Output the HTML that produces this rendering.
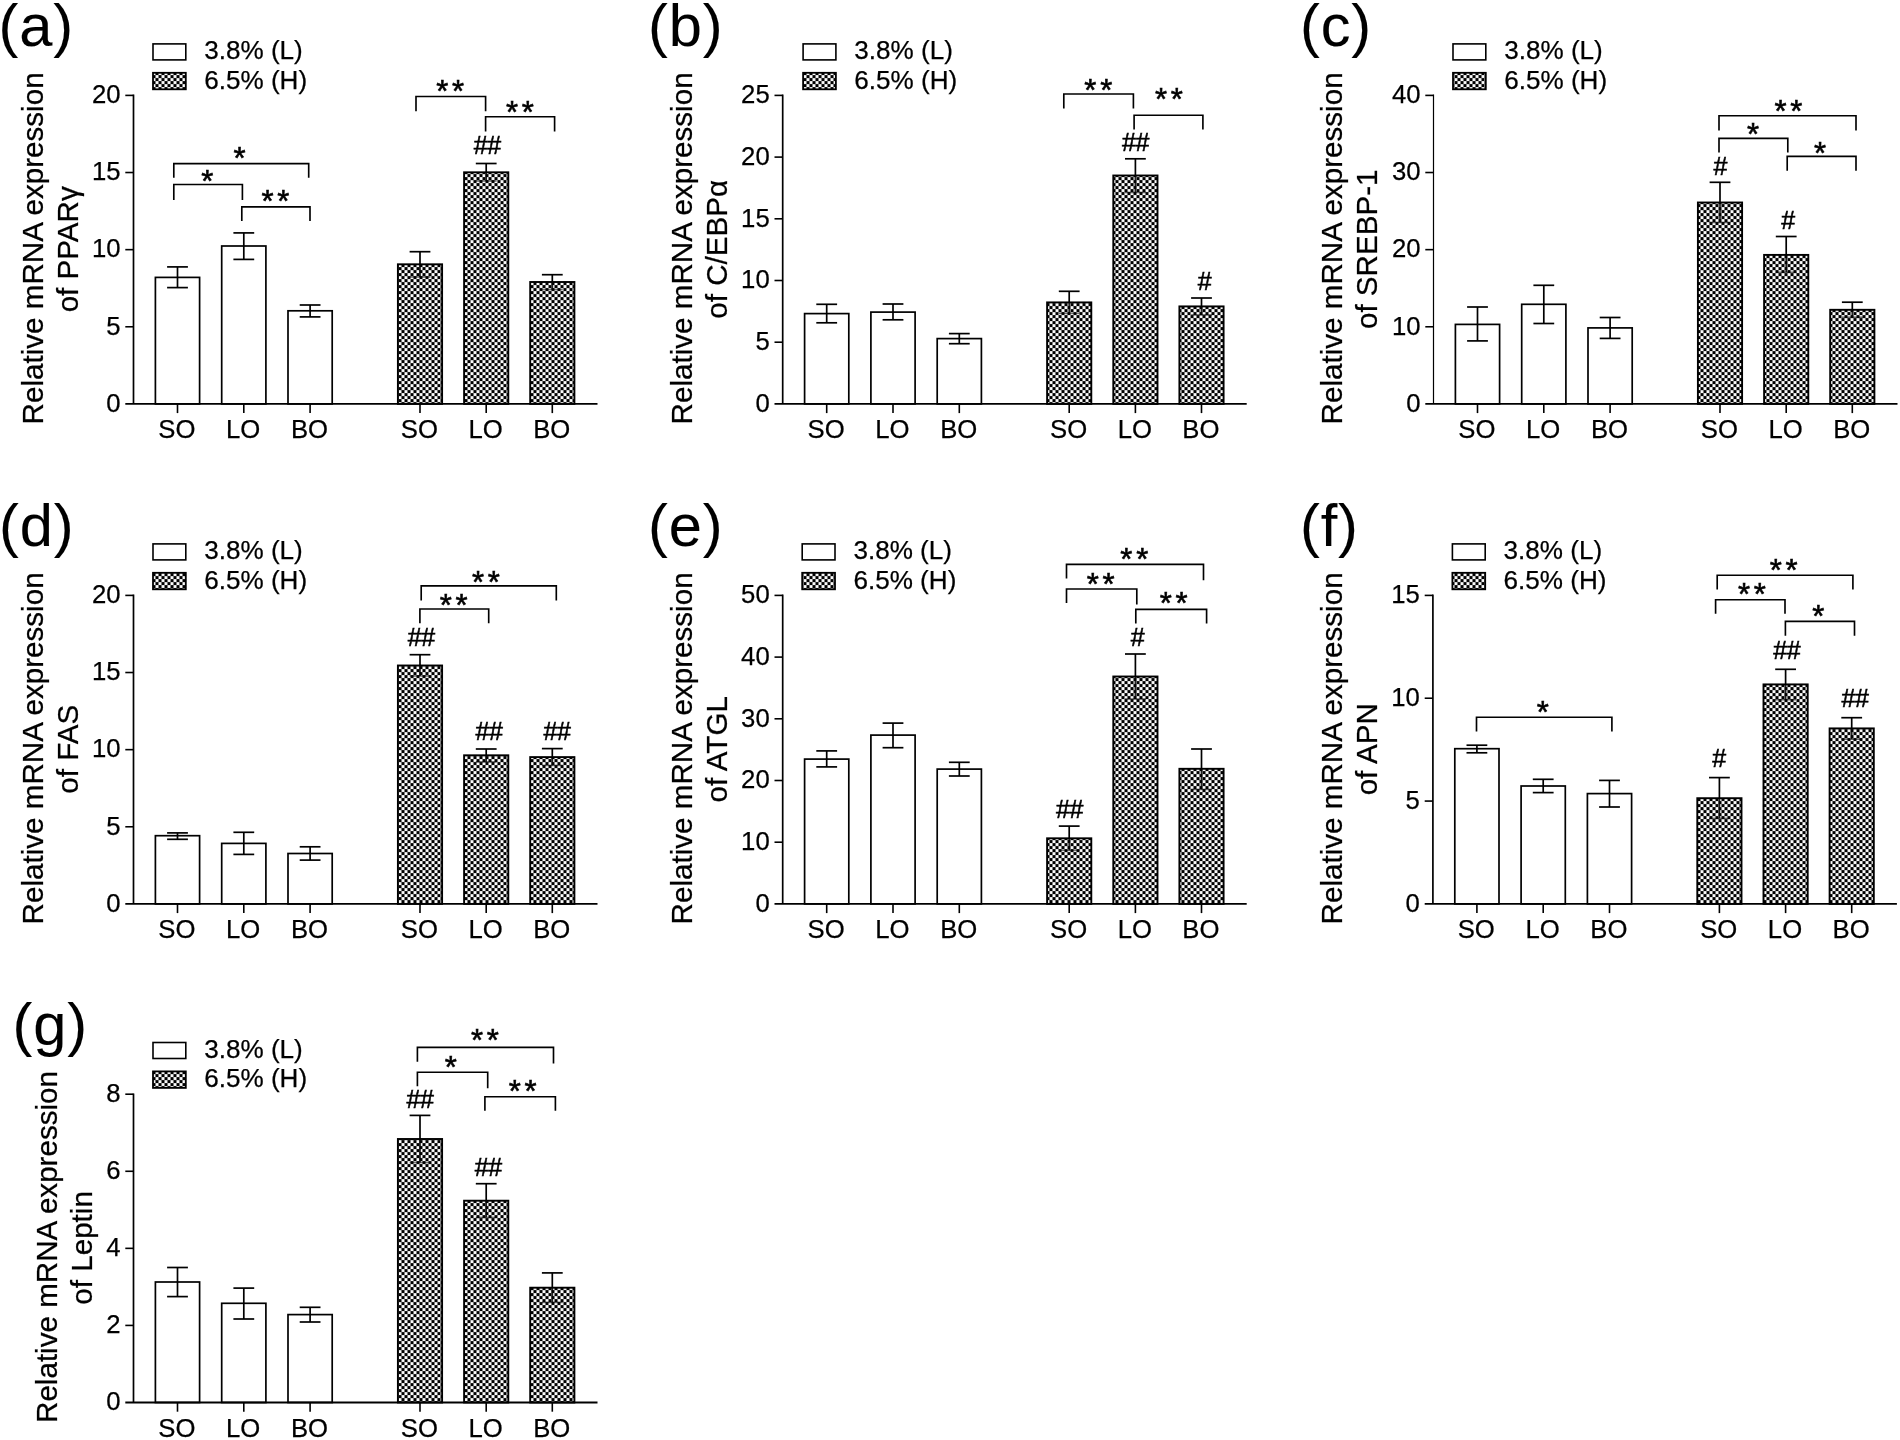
<!DOCTYPE html>
<html lang="en">
<head>
<meta charset="utf-8">
<title>Relative mRNA expression of lipid metabolism genes</title>
<style>
html,body{margin:0;padding:0;background:#fff;}
body{width:1900px;height:1440px;overflow:hidden;}
svg{display:block;filter:blur(0.3px);}
svg text{font-family:"Liberation Sans", sans-serif;fill:#000;stroke:#000;stroke-width:0.25px;}
svg text.st{stroke-width:0.6px;}
svg text.lb{stroke-width:0.1px;}
svg text.hs{stroke-width:0.55px;}
</style>
</head>
<body>
<svg width="1900" height="1440" viewBox="0 0 1900 1440">
<defs>
<pattern id="chk" x="2.5" y="3.1" width="6" height="6" patternUnits="userSpaceOnUse">
<rect x="0" y="0" width="6" height="6" fill="#fff"/>
<rect x="-0.05" y="-0.05" width="3.1" height="3.1" fill="#000"/>
<rect x="2.95" y="2.95" width="3.1" height="3.1" fill="#000"/>
</pattern>
</defs>
<rect x="0" y="0" width="1900" height="1440" fill="#fff"/>
<g>
<text x="-1.5" y="45.9" font-size="59.6" text-anchor="start" letter-spacing="0.9" class="lb">(a)</text>
<text transform="translate(43 248.4) rotate(-90)" font-size="29.6" text-anchor="middle">Relative mRNA expression</text>
<text transform="translate(77.9 249.3) rotate(-90)" font-size="29.6" text-anchor="middle">of PPARγ</text>
<rect x="153" y="43.9" width="32.8" height="16.0" fill="#fff" stroke="#000" stroke-width="1.6"/>
<rect x="153" y="72.8" width="32.8" height="16.5" fill="url(#chk)" stroke="#000" stroke-width="1.8"/>
<text x="204.2" y="59.3" font-size="26.1" text-anchor="start" >3.8% (L)</text>
<text x="204.2" y="88.7" font-size="26.1" text-anchor="start" >6.5% (H)</text>
<rect x="155.4" y="277.4" width="44.2" height="126.5" fill="#fff" stroke="#000" stroke-width="1.7"/>
<line x1="177.5" y1="266.9" x2="177.5" y2="287.6" stroke="#000" stroke-width="1.7" />
<line x1="167.1" y1="266.9" x2="187.9" y2="266.9" stroke="#000" stroke-width="1.7" />
<line x1="167.1" y1="287.6" x2="187.9" y2="287.6" stroke="#000" stroke-width="1.7" />
<rect x="221.7" y="246" width="44.2" height="157.9" fill="#fff" stroke="#000" stroke-width="1.7"/>
<line x1="243.8" y1="232.9" x2="243.8" y2="259.4" stroke="#000" stroke-width="1.7" />
<line x1="233.4" y1="232.9" x2="254.2" y2="232.9" stroke="#000" stroke-width="1.7" />
<line x1="233.4" y1="259.4" x2="254.2" y2="259.4" stroke="#000" stroke-width="1.7" />
<rect x="288" y="310.8" width="44.2" height="93.1" fill="#fff" stroke="#000" stroke-width="1.7"/>
<line x1="310.1" y1="305" x2="310.1" y2="316.9" stroke="#000" stroke-width="1.7" />
<line x1="299.7" y1="305" x2="320.5" y2="305" stroke="#000" stroke-width="1.7" />
<line x1="299.7" y1="316.9" x2="320.5" y2="316.9" stroke="#000" stroke-width="1.7" />
<rect x="397.9" y="264.3" width="44.2" height="139.6" fill="url(#chk)" stroke="#000" stroke-width="1.9"/>
<line x1="420" y1="251.7" x2="420" y2="264.3" stroke="#000" stroke-width="1.7" />
<line x1="409.6" y1="251.7" x2="430.4" y2="251.7" stroke="#000" stroke-width="1.7" />
<line x1="420" y1="264.3" x2="420" y2="277" stroke="#000" stroke-width="1.7" opacity="0.85"/>
<line x1="409.6" y1="277" x2="430.4" y2="277" stroke="#000" stroke-width="1.6" opacity="0.55"/>
<rect x="464.1" y="172.3" width="44.2" height="231.6" fill="url(#chk)" stroke="#000" stroke-width="1.9"/>
<line x1="486.2" y1="163.5" x2="486.2" y2="172.3" stroke="#000" stroke-width="1.7" />
<line x1="475.8" y1="163.5" x2="496.6" y2="163.5" stroke="#000" stroke-width="1.7" />
<line x1="486.2" y1="172.3" x2="486.2" y2="181" stroke="#000" stroke-width="1.7" opacity="0.85"/>
<line x1="475.8" y1="181" x2="496.6" y2="181" stroke="#000" stroke-width="1.6" opacity="0.55"/>
<rect x="530.2" y="282" width="44.2" height="121.9" fill="url(#chk)" stroke="#000" stroke-width="1.9"/>
<line x1="552.3" y1="274.7" x2="552.3" y2="282" stroke="#000" stroke-width="1.7" />
<line x1="541.9" y1="274.7" x2="562.7" y2="274.7" stroke="#000" stroke-width="1.7" />
<line x1="552.3" y1="282" x2="552.3" y2="289.6" stroke="#000" stroke-width="1.7" opacity="0.85"/>
<line x1="541.9" y1="289.6" x2="562.7" y2="289.6" stroke="#000" stroke-width="1.6" opacity="0.55"/>
<line x1="133.5" y1="94.6" x2="133.5" y2="403.9" stroke="#000" stroke-width="1.7" />
<line x1="125.3" y1="403.9" x2="597.5" y2="403.9" stroke="#000" stroke-width="1.8" />
<text x="120.5" y="411.7" font-size="25.7" text-anchor="end" >0</text>
<line x1="125.3" y1="326.77" x2="133.5" y2="326.77" stroke="#000" stroke-width="1.6" />
<text x="120.5" y="334.57" font-size="25.7" text-anchor="end" >5</text>
<line x1="125.3" y1="249.65" x2="133.5" y2="249.65" stroke="#000" stroke-width="1.6" />
<text x="120.5" y="257.45" font-size="25.7" text-anchor="end" >10</text>
<line x1="125.3" y1="172.52" x2="133.5" y2="172.52" stroke="#000" stroke-width="1.6" />
<text x="120.5" y="180.32" font-size="25.7" text-anchor="end" >15</text>
<line x1="125.3" y1="95.4" x2="133.5" y2="95.4" stroke="#000" stroke-width="1.6" />
<text x="120.5" y="103.2" font-size="25.7" text-anchor="end" >20</text>
<line x1="177.5" y1="403.9" x2="177.5" y2="413.1" stroke="#000" stroke-width="1.6" />
<text x="176.9" y="438.3" font-size="25.7" text-anchor="middle" >SO</text>
<line x1="243.8" y1="403.9" x2="243.8" y2="413.1" stroke="#000" stroke-width="1.6" />
<text x="243.2" y="438.3" font-size="25.7" text-anchor="middle" >LO</text>
<line x1="310.1" y1="403.9" x2="310.1" y2="413.1" stroke="#000" stroke-width="1.6" />
<text x="309.5" y="438.3" font-size="25.7" text-anchor="middle" >BO</text>
<line x1="420" y1="403.9" x2="420" y2="413.1" stroke="#000" stroke-width="1.6" />
<text x="419.4" y="438.3" font-size="25.7" text-anchor="middle" >SO</text>
<line x1="486.2" y1="403.9" x2="486.2" y2="413.1" stroke="#000" stroke-width="1.6" />
<text x="485.6" y="438.3" font-size="25.7" text-anchor="middle" >LO</text>
<line x1="552.3" y1="403.9" x2="552.3" y2="413.1" stroke="#000" stroke-width="1.6" />
<text x="551.7" y="438.3" font-size="25.7" text-anchor="middle" >BO</text>
<polyline points="173.8,177.8 173.8,163.6 308.7,163.6 308.7,177.8" fill="none" stroke="#000" stroke-width="1.65"/>
<text x="239.6" y="169.19" font-size="31.0" text-anchor="middle" class="st">*</text>
<polyline points="173.8,199.9 173.8,184.5 242.4,184.5 242.4,199.9" fill="none" stroke="#000" stroke-width="1.65"/>
<text x="207.3" y="192.49" font-size="31.0" text-anchor="middle" class="st">*</text>
<polyline points="241.8,221.1 241.8,206.8 310,206.8 310,221.1" fill="none" stroke="#000" stroke-width="1.65"/>
<text x="277.16" y="212.49" font-size="31.0" text-anchor="middle" letter-spacing="3.71" class="st">**</text>
<polyline points="416,111.2 416,96.5 485.6,96.5 485.6,111.2" fill="none" stroke="#000" stroke-width="1.65"/>
<text x="451.96" y="102.49" font-size="31.0" text-anchor="middle" letter-spacing="3.71" class="st">**</text>
<polyline points="485.6,131.4 485.6,116.7 554.6,116.7 554.6,131.4" fill="none" stroke="#000" stroke-width="1.65"/>
<text x="521.86" y="122.69" font-size="31.0" text-anchor="middle" letter-spacing="3.71" class="st">**</text>
<text x="487.3" y="153.83" font-size="25.0" text-anchor="middle" class="hs" letter-spacing="-0.4">##</text>
</g>
<g>
<text x="647.9" y="45.9" font-size="59.6" text-anchor="start" letter-spacing="0.9" class="lb">(b)</text>
<text transform="translate(692.2 248.4) rotate(-90)" font-size="29.6" text-anchor="middle">Relative mRNA expression</text>
<text transform="translate(727.1 249.3) rotate(-90)" font-size="29.6" text-anchor="middle">of C/EBPα</text>
<rect x="803.1" y="43.9" width="32.8" height="16.0" fill="#fff" stroke="#000" stroke-width="1.6"/>
<rect x="803.1" y="72.8" width="32.8" height="16.5" fill="url(#chk)" stroke="#000" stroke-width="1.8"/>
<text x="854.3" y="59.3" font-size="26.1" text-anchor="start" >3.8% (L)</text>
<text x="854.3" y="88.7" font-size="26.1" text-anchor="start" >6.5% (H)</text>
<rect x="804.6" y="313.6" width="44.2" height="90.3" fill="#fff" stroke="#000" stroke-width="1.7"/>
<line x1="826.7" y1="304.3" x2="826.7" y2="322.8" stroke="#000" stroke-width="1.7" />
<line x1="816.3" y1="304.3" x2="837.1" y2="304.3" stroke="#000" stroke-width="1.7" />
<line x1="816.3" y1="322.8" x2="837.1" y2="322.8" stroke="#000" stroke-width="1.7" />
<rect x="870.9" y="312.1" width="44.2" height="91.8" fill="#fff" stroke="#000" stroke-width="1.7"/>
<line x1="893" y1="304" x2="893" y2="319.8" stroke="#000" stroke-width="1.7" />
<line x1="882.6" y1="304" x2="903.4" y2="304" stroke="#000" stroke-width="1.7" />
<line x1="882.6" y1="319.8" x2="903.4" y2="319.8" stroke="#000" stroke-width="1.7" />
<rect x="937.2" y="338.6" width="44.2" height="65.3" fill="#fff" stroke="#000" stroke-width="1.7"/>
<line x1="959.3" y1="333.6" x2="959.3" y2="343.7" stroke="#000" stroke-width="1.7" />
<line x1="948.9" y1="333.6" x2="969.7" y2="333.6" stroke="#000" stroke-width="1.7" />
<line x1="948.9" y1="343.7" x2="969.7" y2="343.7" stroke="#000" stroke-width="1.7" />
<rect x="1047.1" y="302.4" width="44.2" height="101.5" fill="url(#chk)" stroke="#000" stroke-width="1.9"/>
<line x1="1069.2" y1="291.3" x2="1069.2" y2="302.4" stroke="#000" stroke-width="1.7" />
<line x1="1058.8" y1="291.3" x2="1079.6" y2="291.3" stroke="#000" stroke-width="1.7" />
<line x1="1069.2" y1="302.4" x2="1069.2" y2="313.4" stroke="#000" stroke-width="1.7" opacity="0.85"/>
<line x1="1058.8" y1="313.4" x2="1079.6" y2="313.4" stroke="#000" stroke-width="1.6" opacity="0.55"/>
<rect x="1113.3" y="175.5" width="44.2" height="228.4" fill="url(#chk)" stroke="#000" stroke-width="1.9"/>
<line x1="1135.4" y1="158.8" x2="1135.4" y2="175.5" stroke="#000" stroke-width="1.7" />
<line x1="1125" y1="158.8" x2="1145.8" y2="158.8" stroke="#000" stroke-width="1.7" />
<line x1="1135.4" y1="175.5" x2="1135.4" y2="192.5" stroke="#000" stroke-width="1.7" opacity="0.85"/>
<line x1="1125" y1="192.5" x2="1145.8" y2="192.5" stroke="#000" stroke-width="1.6" opacity="0.55"/>
<rect x="1179.4" y="306.4" width="44.2" height="97.5" fill="url(#chk)" stroke="#000" stroke-width="1.9"/>
<line x1="1201.5" y1="298" x2="1201.5" y2="306.4" stroke="#000" stroke-width="1.7" />
<line x1="1191.1" y1="298" x2="1211.9" y2="298" stroke="#000" stroke-width="1.7" />
<line x1="1201.5" y1="306.4" x2="1201.5" y2="314.9" stroke="#000" stroke-width="1.7" opacity="0.85"/>
<line x1="1191.1" y1="314.9" x2="1211.9" y2="314.9" stroke="#000" stroke-width="1.6" opacity="0.55"/>
<line x1="782.7" y1="94.6" x2="782.7" y2="403.9" stroke="#000" stroke-width="1.7" />
<line x1="774.5" y1="403.9" x2="1246.7" y2="403.9" stroke="#000" stroke-width="1.8" />
<text x="769.7" y="411.7" font-size="25.7" text-anchor="end" >0</text>
<line x1="774.5" y1="342.2" x2="782.7" y2="342.2" stroke="#000" stroke-width="1.6" />
<text x="769.7" y="350" font-size="25.7" text-anchor="end" >5</text>
<line x1="774.5" y1="280.5" x2="782.7" y2="280.5" stroke="#000" stroke-width="1.6" />
<text x="769.7" y="288.3" font-size="25.7" text-anchor="end" >10</text>
<line x1="774.5" y1="218.8" x2="782.7" y2="218.8" stroke="#000" stroke-width="1.6" />
<text x="769.7" y="226.6" font-size="25.7" text-anchor="end" >15</text>
<line x1="774.5" y1="157.1" x2="782.7" y2="157.1" stroke="#000" stroke-width="1.6" />
<text x="769.7" y="164.9" font-size="25.7" text-anchor="end" >20</text>
<line x1="774.5" y1="95.4" x2="782.7" y2="95.4" stroke="#000" stroke-width="1.6" />
<text x="769.7" y="103.2" font-size="25.7" text-anchor="end" >25</text>
<line x1="826.7" y1="403.9" x2="826.7" y2="413.1" stroke="#000" stroke-width="1.6" />
<text x="826.1" y="438.3" font-size="25.7" text-anchor="middle" >SO</text>
<line x1="893" y1="403.9" x2="893" y2="413.1" stroke="#000" stroke-width="1.6" />
<text x="892.4" y="438.3" font-size="25.7" text-anchor="middle" >LO</text>
<line x1="959.3" y1="403.9" x2="959.3" y2="413.1" stroke="#000" stroke-width="1.6" />
<text x="958.7" y="438.3" font-size="25.7" text-anchor="middle" >BO</text>
<line x1="1069.2" y1="403.9" x2="1069.2" y2="413.1" stroke="#000" stroke-width="1.6" />
<text x="1068.6" y="438.3" font-size="25.7" text-anchor="middle" >SO</text>
<line x1="1135.4" y1="403.9" x2="1135.4" y2="413.1" stroke="#000" stroke-width="1.6" />
<text x="1134.8" y="438.3" font-size="25.7" text-anchor="middle" >LO</text>
<line x1="1201.5" y1="403.9" x2="1201.5" y2="413.1" stroke="#000" stroke-width="1.6" />
<text x="1200.9" y="438.3" font-size="25.7" text-anchor="middle" >BO</text>
<polyline points="1063.8,108.5 1063.8,94 1133.4,94 1133.4,108.5" fill="none" stroke="#000" stroke-width="1.65"/>
<text x="1100.15" y="100.79" font-size="31.0" text-anchor="middle" letter-spacing="3.71" class="st">**</text>
<polyline points="1134.1,129.4 1134.1,115.2 1202.9,115.2 1202.9,129.4" fill="none" stroke="#000" stroke-width="1.65"/>
<text x="1170.86" y="110.39" font-size="31.0" text-anchor="middle" letter-spacing="3.71" class="st">**</text>
<text x="1135.5" y="150.62" font-size="25.0" text-anchor="middle" class="hs" letter-spacing="-0.4">##</text>
<text x="1204.4" y="289.73" font-size="25.0" text-anchor="middle" class="hs" letter-spacing="-0.4">#</text>
</g>
<g>
<text x="1299.9" y="45.9" font-size="59.6" text-anchor="start" letter-spacing="0.9" class="lb">(c)</text>
<text transform="translate(1341.8 248.4) rotate(-90)" font-size="29.6" text-anchor="middle">Relative mRNA expression</text>
<text transform="translate(1376.7 249.3) rotate(-90)" font-size="29.6" text-anchor="middle">of SREBP-1</text>
<rect x="1453" y="43.9" width="32.8" height="16.0" fill="#fff" stroke="#000" stroke-width="1.6"/>
<rect x="1453" y="72.8" width="32.8" height="16.5" fill="url(#chk)" stroke="#000" stroke-width="1.8"/>
<text x="1504.2" y="59.3" font-size="26.1" text-anchor="start" >3.8% (L)</text>
<text x="1504.2" y="88.7" font-size="26.1" text-anchor="start" >6.5% (H)</text>
<rect x="1455.4" y="324.4" width="44.2" height="79.5" fill="#fff" stroke="#000" stroke-width="1.7"/>
<line x1="1477.5" y1="307" x2="1477.5" y2="340.9" stroke="#000" stroke-width="1.7" />
<line x1="1467.1" y1="307" x2="1487.9" y2="307" stroke="#000" stroke-width="1.7" />
<line x1="1467.1" y1="340.9" x2="1487.9" y2="340.9" stroke="#000" stroke-width="1.7" />
<rect x="1521.7" y="304.3" width="44.2" height="99.6" fill="#fff" stroke="#000" stroke-width="1.7"/>
<line x1="1543.8" y1="285.3" x2="1543.8" y2="323.5" stroke="#000" stroke-width="1.7" />
<line x1="1533.4" y1="285.3" x2="1554.2" y2="285.3" stroke="#000" stroke-width="1.7" />
<line x1="1533.4" y1="323.5" x2="1554.2" y2="323.5" stroke="#000" stroke-width="1.7" />
<rect x="1588" y="327.9" width="44.2" height="76" fill="#fff" stroke="#000" stroke-width="1.7"/>
<line x1="1610.1" y1="317.5" x2="1610.1" y2="338.4" stroke="#000" stroke-width="1.7" />
<line x1="1599.7" y1="317.5" x2="1620.5" y2="317.5" stroke="#000" stroke-width="1.7" />
<line x1="1599.7" y1="338.4" x2="1620.5" y2="338.4" stroke="#000" stroke-width="1.7" />
<rect x="1697.9" y="202.5" width="44.2" height="201.4" fill="url(#chk)" stroke="#000" stroke-width="1.9"/>
<line x1="1720" y1="182.3" x2="1720" y2="202.5" stroke="#000" stroke-width="1.7" />
<line x1="1709.6" y1="182.3" x2="1730.4" y2="182.3" stroke="#000" stroke-width="1.7" />
<line x1="1720" y1="202.5" x2="1720" y2="222.5" stroke="#000" stroke-width="1.7" opacity="0.85"/>
<line x1="1709.6" y1="222.5" x2="1730.4" y2="222.5" stroke="#000" stroke-width="1.6" opacity="0.55"/>
<rect x="1764.1" y="254.9" width="44.2" height="149" fill="url(#chk)" stroke="#000" stroke-width="1.9"/>
<line x1="1786.2" y1="236.5" x2="1786.2" y2="254.9" stroke="#000" stroke-width="1.7" />
<line x1="1775.8" y1="236.5" x2="1796.6" y2="236.5" stroke="#000" stroke-width="1.7" />
<line x1="1786.2" y1="254.9" x2="1786.2" y2="272.3" stroke="#000" stroke-width="1.7" opacity="0.85"/>
<line x1="1775.8" y1="272.3" x2="1796.6" y2="272.3" stroke="#000" stroke-width="1.6" opacity="0.55"/>
<rect x="1830.2" y="309.8" width="44.2" height="94.1" fill="url(#chk)" stroke="#000" stroke-width="1.9"/>
<line x1="1852.3" y1="302.2" x2="1852.3" y2="309.8" stroke="#000" stroke-width="1.7" />
<line x1="1841.9" y1="302.2" x2="1862.7" y2="302.2" stroke="#000" stroke-width="1.7" />
<line x1="1852.3" y1="309.8" x2="1852.3" y2="317.2" stroke="#000" stroke-width="1.7" opacity="0.85"/>
<line x1="1841.9" y1="317.2" x2="1862.7" y2="317.2" stroke="#000" stroke-width="1.6" opacity="0.55"/>
<line x1="1433.5" y1="94.6" x2="1433.5" y2="403.9" stroke="#000" stroke-width="1.2" />
<line x1="1425.3" y1="403.9" x2="1897.5" y2="403.9" stroke="#000" stroke-width="1.8" />
<text x="1420.5" y="411.7" font-size="25.7" text-anchor="end" >0</text>
<line x1="1425.3" y1="326.77" x2="1433.5" y2="326.77" stroke="#000" stroke-width="1.6" />
<text x="1420.5" y="334.57" font-size="25.7" text-anchor="end" >10</text>
<line x1="1425.3" y1="249.65" x2="1433.5" y2="249.65" stroke="#000" stroke-width="1.6" />
<text x="1420.5" y="257.45" font-size="25.7" text-anchor="end" >20</text>
<line x1="1425.3" y1="172.52" x2="1433.5" y2="172.52" stroke="#000" stroke-width="1.6" />
<text x="1420.5" y="180.32" font-size="25.7" text-anchor="end" >30</text>
<line x1="1425.3" y1="95.4" x2="1433.5" y2="95.4" stroke="#000" stroke-width="1.6" />
<text x="1420.5" y="103.2" font-size="25.7" text-anchor="end" >40</text>
<line x1="1477.5" y1="403.9" x2="1477.5" y2="413.1" stroke="#000" stroke-width="1.6" />
<text x="1476.9" y="438.3" font-size="25.7" text-anchor="middle" >SO</text>
<line x1="1543.8" y1="403.9" x2="1543.8" y2="413.1" stroke="#000" stroke-width="1.6" />
<text x="1543.2" y="438.3" font-size="25.7" text-anchor="middle" >LO</text>
<line x1="1610.1" y1="403.9" x2="1610.1" y2="413.1" stroke="#000" stroke-width="1.6" />
<text x="1609.5" y="438.3" font-size="25.7" text-anchor="middle" >BO</text>
<line x1="1720" y1="403.9" x2="1720" y2="413.1" stroke="#000" stroke-width="1.6" />
<text x="1719.4" y="438.3" font-size="25.7" text-anchor="middle" >SO</text>
<line x1="1786.2" y1="403.9" x2="1786.2" y2="413.1" stroke="#000" stroke-width="1.6" />
<text x="1785.6" y="438.3" font-size="25.7" text-anchor="middle" >LO</text>
<line x1="1852.3" y1="403.9" x2="1852.3" y2="413.1" stroke="#000" stroke-width="1.6" />
<text x="1851.7" y="438.3" font-size="25.7" text-anchor="middle" >BO</text>
<polyline points="1719,130.5 1719,115.7 1856,115.7 1856,130.5" fill="none" stroke="#000" stroke-width="1.65"/>
<text x="1790.26" y="121.89" font-size="31.0" text-anchor="middle" letter-spacing="3.71" class="st">**</text>
<polyline points="1719,152.4 1719,138.4 1787.8,138.4 1787.8,152.4" fill="none" stroke="#000" stroke-width="1.65"/>
<text x="1753" y="145.29" font-size="31.0" text-anchor="middle" class="st">*</text>
<polyline points="1787.2,170.7 1787.2,156.4 1856,156.4 1856,170.7" fill="none" stroke="#000" stroke-width="1.65"/>
<text x="1820.1" y="163.79" font-size="31.0" text-anchor="middle" class="st">*</text>
<text x="1720.2" y="174.73" font-size="25.0" text-anchor="middle" class="hs" letter-spacing="-0.4">#</text>
<text x="1787.9" y="228.83" font-size="25.0" text-anchor="middle" class="hs" letter-spacing="-0.4">#</text>
</g>
<g>
<text x="-1.1" y="545.9" font-size="59.6" text-anchor="start" letter-spacing="0.9" class="lb">(d)</text>
<text transform="translate(43 748.4) rotate(-90)" font-size="29.6" text-anchor="middle">Relative mRNA expression</text>
<text transform="translate(77.9 749.3) rotate(-90)" font-size="29.6" text-anchor="middle">of FAS</text>
<rect x="153" y="543.9" width="32.8" height="16.0" fill="#fff" stroke="#000" stroke-width="1.6"/>
<rect x="153" y="572.8" width="32.8" height="16.5" fill="url(#chk)" stroke="#000" stroke-width="1.8"/>
<text x="204.2" y="559.3" font-size="26.1" text-anchor="start" >3.8% (L)</text>
<text x="204.2" y="588.7" font-size="26.1" text-anchor="start" >6.5% (H)</text>
<rect x="155.4" y="835.7" width="44.2" height="68.2" fill="#fff" stroke="#000" stroke-width="1.7"/>
<line x1="177.5" y1="832.9" x2="177.5" y2="839.3" stroke="#000" stroke-width="1.7" />
<line x1="167.1" y1="832.9" x2="187.9" y2="832.9" stroke="#000" stroke-width="1.7" />
<line x1="167.1" y1="839.3" x2="187.9" y2="839.3" stroke="#000" stroke-width="1.7" />
<rect x="221.7" y="843.4" width="44.2" height="60.5" fill="#fff" stroke="#000" stroke-width="1.7"/>
<line x1="243.8" y1="832.3" x2="243.8" y2="854.4" stroke="#000" stroke-width="1.7" />
<line x1="233.4" y1="832.3" x2="254.2" y2="832.3" stroke="#000" stroke-width="1.7" />
<line x1="233.4" y1="854.4" x2="254.2" y2="854.4" stroke="#000" stroke-width="1.7" />
<rect x="288" y="853.5" width="44.2" height="50.4" fill="#fff" stroke="#000" stroke-width="1.7"/>
<line x1="310.1" y1="846.8" x2="310.1" y2="860.1" stroke="#000" stroke-width="1.7" />
<line x1="299.7" y1="846.8" x2="320.5" y2="846.8" stroke="#000" stroke-width="1.7" />
<line x1="299.7" y1="860.1" x2="320.5" y2="860.1" stroke="#000" stroke-width="1.7" />
<rect x="397.9" y="665.5" width="44.2" height="238.4" fill="url(#chk)" stroke="#000" stroke-width="1.9"/>
<line x1="420" y1="654.7" x2="420" y2="665.5" stroke="#000" stroke-width="1.7" />
<line x1="409.6" y1="654.7" x2="430.4" y2="654.7" stroke="#000" stroke-width="1.7" />
<line x1="420" y1="665.5" x2="420" y2="676" stroke="#000" stroke-width="1.7" opacity="0.85"/>
<line x1="409.6" y1="676" x2="430.4" y2="676" stroke="#000" stroke-width="1.6" opacity="0.55"/>
<rect x="464.1" y="755.3" width="44.2" height="148.6" fill="url(#chk)" stroke="#000" stroke-width="1.9"/>
<line x1="486.2" y1="749" x2="486.2" y2="755.3" stroke="#000" stroke-width="1.7" />
<line x1="475.8" y1="749" x2="496.6" y2="749" stroke="#000" stroke-width="1.7" />
<line x1="486.2" y1="755.3" x2="486.2" y2="761.9" stroke="#000" stroke-width="1.7" opacity="0.85"/>
<line x1="475.8" y1="761.9" x2="496.6" y2="761.9" stroke="#000" stroke-width="1.6" opacity="0.55"/>
<rect x="530.2" y="757.1" width="44.2" height="146.8" fill="url(#chk)" stroke="#000" stroke-width="1.9"/>
<line x1="552.3" y1="748.6" x2="552.3" y2="757.1" stroke="#000" stroke-width="1.7" />
<line x1="541.9" y1="748.6" x2="562.7" y2="748.6" stroke="#000" stroke-width="1.7" />
<line x1="552.3" y1="757.1" x2="552.3" y2="765.4" stroke="#000" stroke-width="1.7" opacity="0.85"/>
<line x1="541.9" y1="765.4" x2="562.7" y2="765.4" stroke="#000" stroke-width="1.6" opacity="0.55"/>
<line x1="133.5" y1="594.6" x2="133.5" y2="903.9" stroke="#000" stroke-width="1.7" />
<line x1="125.3" y1="903.9" x2="597.5" y2="903.9" stroke="#000" stroke-width="1.8" />
<text x="120.5" y="911.7" font-size="25.7" text-anchor="end" >0</text>
<line x1="125.3" y1="826.77" x2="133.5" y2="826.77" stroke="#000" stroke-width="1.6" />
<text x="120.5" y="834.57" font-size="25.7" text-anchor="end" >5</text>
<line x1="125.3" y1="749.65" x2="133.5" y2="749.65" stroke="#000" stroke-width="1.6" />
<text x="120.5" y="757.45" font-size="25.7" text-anchor="end" >10</text>
<line x1="125.3" y1="672.52" x2="133.5" y2="672.52" stroke="#000" stroke-width="1.6" />
<text x="120.5" y="680.32" font-size="25.7" text-anchor="end" >15</text>
<line x1="125.3" y1="595.4" x2="133.5" y2="595.4" stroke="#000" stroke-width="1.6" />
<text x="120.5" y="603.2" font-size="25.7" text-anchor="end" >20</text>
<line x1="177.5" y1="903.9" x2="177.5" y2="913.1" stroke="#000" stroke-width="1.6" />
<text x="176.9" y="938.3" font-size="25.7" text-anchor="middle" >SO</text>
<line x1="243.8" y1="903.9" x2="243.8" y2="913.1" stroke="#000" stroke-width="1.6" />
<text x="243.2" y="938.3" font-size="25.7" text-anchor="middle" >LO</text>
<line x1="310.1" y1="903.9" x2="310.1" y2="913.1" stroke="#000" stroke-width="1.6" />
<text x="309.5" y="938.3" font-size="25.7" text-anchor="middle" >BO</text>
<line x1="420" y1="903.9" x2="420" y2="913.1" stroke="#000" stroke-width="1.6" />
<text x="419.4" y="938.3" font-size="25.7" text-anchor="middle" >SO</text>
<line x1="486.2" y1="903.9" x2="486.2" y2="913.1" stroke="#000" stroke-width="1.6" />
<text x="485.6" y="938.3" font-size="25.7" text-anchor="middle" >LO</text>
<line x1="552.3" y1="903.9" x2="552.3" y2="913.1" stroke="#000" stroke-width="1.6" />
<text x="551.7" y="938.3" font-size="25.7" text-anchor="middle" >BO</text>
<polyline points="421.2,600.4 421.2,585.9 556.3,585.9 556.3,600.4" fill="none" stroke="#000" stroke-width="1.65"/>
<text x="487.86" y="592.79" font-size="31.0" text-anchor="middle" letter-spacing="3.71" class="st">**</text>
<polyline points="419.9,623.2 419.9,609 488.7,609 488.7,623.2" fill="none" stroke="#000" stroke-width="1.65"/>
<text x="455.46" y="616.09" font-size="31.0" text-anchor="middle" letter-spacing="3.71" class="st">**</text>
<text x="421.3" y="645.62" font-size="25.0" text-anchor="middle" class="hs" letter-spacing="-0.4">##</text>
<text x="489.1" y="739.82" font-size="25.0" text-anchor="middle" class="hs" letter-spacing="-0.4">##</text>
<text x="557" y="739.82" font-size="25.0" text-anchor="middle" class="hs" letter-spacing="-0.4">##</text>
</g>
<g>
<text x="647.9" y="545.9" font-size="59.6" text-anchor="start" letter-spacing="0.9" class="lb">(e)</text>
<text transform="translate(692.2 748.4) rotate(-90)" font-size="29.6" text-anchor="middle">Relative mRNA expression</text>
<text transform="translate(727.1 749.3) rotate(-90)" font-size="29.6" text-anchor="middle">of ATGL</text>
<rect x="802.2" y="543.9" width="32.8" height="16.0" fill="#fff" stroke="#000" stroke-width="1.6"/>
<rect x="802.2" y="572.8" width="32.8" height="16.5" fill="url(#chk)" stroke="#000" stroke-width="1.8"/>
<text x="853.4" y="559.3" font-size="26.1" text-anchor="start" >3.8% (L)</text>
<text x="853.4" y="588.7" font-size="26.1" text-anchor="start" >6.5% (H)</text>
<rect x="804.6" y="759.1" width="44.2" height="144.8" fill="#fff" stroke="#000" stroke-width="1.7"/>
<line x1="826.7" y1="750.9" x2="826.7" y2="766.9" stroke="#000" stroke-width="1.7" />
<line x1="816.3" y1="750.9" x2="837.1" y2="750.9" stroke="#000" stroke-width="1.7" />
<line x1="816.3" y1="766.9" x2="837.1" y2="766.9" stroke="#000" stroke-width="1.7" />
<rect x="870.9" y="735.1" width="44.2" height="168.8" fill="#fff" stroke="#000" stroke-width="1.7"/>
<line x1="893" y1="723.1" x2="893" y2="747.7" stroke="#000" stroke-width="1.7" />
<line x1="882.6" y1="723.1" x2="903.4" y2="723.1" stroke="#000" stroke-width="1.7" />
<line x1="882.6" y1="747.7" x2="903.4" y2="747.7" stroke="#000" stroke-width="1.7" />
<rect x="937.2" y="769.1" width="44.2" height="134.8" fill="#fff" stroke="#000" stroke-width="1.7"/>
<line x1="959.3" y1="762.3" x2="959.3" y2="776" stroke="#000" stroke-width="1.7" />
<line x1="948.9" y1="762.3" x2="969.7" y2="762.3" stroke="#000" stroke-width="1.7" />
<line x1="948.9" y1="776" x2="969.7" y2="776" stroke="#000" stroke-width="1.7" />
<rect x="1047.1" y="838.3" width="44.2" height="65.6" fill="url(#chk)" stroke="#000" stroke-width="1.9"/>
<line x1="1069.2" y1="826.1" x2="1069.2" y2="838.3" stroke="#000" stroke-width="1.7" />
<line x1="1058.8" y1="826.1" x2="1079.6" y2="826.1" stroke="#000" stroke-width="1.7" />
<line x1="1069.2" y1="838.3" x2="1069.2" y2="850.3" stroke="#000" stroke-width="1.7" opacity="0.85"/>
<line x1="1058.8" y1="850.3" x2="1079.6" y2="850.3" stroke="#000" stroke-width="1.6" opacity="0.55"/>
<rect x="1113.3" y="676.5" width="44.2" height="227.4" fill="url(#chk)" stroke="#000" stroke-width="1.9"/>
<line x1="1135.4" y1="654" x2="1135.4" y2="676.5" stroke="#000" stroke-width="1.7" />
<line x1="1125" y1="654" x2="1145.8" y2="654" stroke="#000" stroke-width="1.7" />
<line x1="1135.4" y1="676.5" x2="1135.4" y2="699" stroke="#000" stroke-width="1.7" opacity="0.85"/>
<line x1="1125" y1="699" x2="1145.8" y2="699" stroke="#000" stroke-width="1.6" opacity="0.55"/>
<rect x="1179.4" y="768.8" width="44.2" height="135.1" fill="url(#chk)" stroke="#000" stroke-width="1.9"/>
<line x1="1201.5" y1="749" x2="1201.5" y2="768.8" stroke="#000" stroke-width="1.7" />
<line x1="1191.1" y1="749" x2="1211.9" y2="749" stroke="#000" stroke-width="1.7" />
<line x1="1201.5" y1="768.8" x2="1201.5" y2="789.4" stroke="#000" stroke-width="1.7" opacity="0.85"/>
<line x1="1191.1" y1="789.4" x2="1211.9" y2="789.4" stroke="#000" stroke-width="1.6" opacity="0.55"/>
<line x1="782.7" y1="594.6" x2="782.7" y2="903.9" stroke="#000" stroke-width="1.7" />
<line x1="774.5" y1="903.9" x2="1246.7" y2="903.9" stroke="#000" stroke-width="1.8" />
<text x="769.7" y="911.7" font-size="25.7" text-anchor="end" >0</text>
<line x1="774.5" y1="842.2" x2="782.7" y2="842.2" stroke="#000" stroke-width="1.6" />
<text x="769.7" y="850" font-size="25.7" text-anchor="end" >10</text>
<line x1="774.5" y1="780.5" x2="782.7" y2="780.5" stroke="#000" stroke-width="1.6" />
<text x="769.7" y="788.3" font-size="25.7" text-anchor="end" >20</text>
<line x1="774.5" y1="718.8" x2="782.7" y2="718.8" stroke="#000" stroke-width="1.6" />
<text x="769.7" y="726.6" font-size="25.7" text-anchor="end" >30</text>
<line x1="774.5" y1="657.1" x2="782.7" y2="657.1" stroke="#000" stroke-width="1.6" />
<text x="769.7" y="664.9" font-size="25.7" text-anchor="end" >40</text>
<line x1="774.5" y1="595.4" x2="782.7" y2="595.4" stroke="#000" stroke-width="1.6" />
<text x="769.7" y="603.2" font-size="25.7" text-anchor="end" >50</text>
<line x1="826.7" y1="903.9" x2="826.7" y2="913.1" stroke="#000" stroke-width="1.6" />
<text x="826.1" y="938.3" font-size="25.7" text-anchor="middle" >SO</text>
<line x1="893" y1="903.9" x2="893" y2="913.1" stroke="#000" stroke-width="1.6" />
<text x="892.4" y="938.3" font-size="25.7" text-anchor="middle" >LO</text>
<line x1="959.3" y1="903.9" x2="959.3" y2="913.1" stroke="#000" stroke-width="1.6" />
<text x="958.7" y="938.3" font-size="25.7" text-anchor="middle" >BO</text>
<line x1="1069.2" y1="903.9" x2="1069.2" y2="913.1" stroke="#000" stroke-width="1.6" />
<text x="1068.6" y="938.3" font-size="25.7" text-anchor="middle" >SO</text>
<line x1="1135.4" y1="903.9" x2="1135.4" y2="913.1" stroke="#000" stroke-width="1.6" />
<text x="1134.8" y="938.3" font-size="25.7" text-anchor="middle" >LO</text>
<line x1="1201.5" y1="903.9" x2="1201.5" y2="913.1" stroke="#000" stroke-width="1.6" />
<text x="1200.9" y="938.3" font-size="25.7" text-anchor="middle" >BO</text>
<polyline points="1066.5,578.4 1066.5,564.4 1203.5,564.4 1203.5,580.3" fill="none" stroke="#000" stroke-width="1.65"/>
<text x="1136.15" y="569.99" font-size="31.0" text-anchor="middle" letter-spacing="3.71" class="st">**</text>
<polyline points="1066.5,603 1066.5,589 1136.8,589 1136.8,604.5" fill="none" stroke="#000" stroke-width="1.65"/>
<text x="1102.45" y="594.59" font-size="31.0" text-anchor="middle" letter-spacing="3.71" class="st">**</text>
<polyline points="1135.8,623.5 1135.8,609.3 1206.6,609.3 1206.6,623.5" fill="none" stroke="#000" stroke-width="1.65"/>
<text x="1175.45" y="614.19" font-size="31.0" text-anchor="middle" letter-spacing="3.71" class="st">**</text>
<text x="1137.5" y="645.72" font-size="25.0" text-anchor="middle" class="hs" letter-spacing="-0.4">#</text>
<text x="1069.6" y="818.22" font-size="25.0" text-anchor="middle" class="hs" letter-spacing="-0.4">##</text>
</g>
<g>
<text x="1299.9" y="545.9" font-size="59.6" text-anchor="start" letter-spacing="0.9" class="lb">(f)</text>
<text transform="translate(1342.4 748.4) rotate(-90)" font-size="29.6" text-anchor="middle">Relative mRNA expression</text>
<text transform="translate(1377.3 749.3) rotate(-90)" font-size="29.6" text-anchor="middle">of APN</text>
<rect x="1452.4" y="543.9" width="32.8" height="16.0" fill="#fff" stroke="#000" stroke-width="1.6"/>
<rect x="1452.4" y="572.8" width="32.8" height="16.5" fill="url(#chk)" stroke="#000" stroke-width="1.8"/>
<text x="1503.6" y="559.3" font-size="26.1" text-anchor="start" >3.8% (L)</text>
<text x="1503.6" y="588.7" font-size="26.1" text-anchor="start" >6.5% (H)</text>
<rect x="1454.8" y="748.7" width="44.2" height="155.2" fill="#fff" stroke="#000" stroke-width="1.7"/>
<line x1="1476.9" y1="745.2" x2="1476.9" y2="752.8" stroke="#000" stroke-width="1.7" />
<line x1="1466.5" y1="745.2" x2="1487.3" y2="745.2" stroke="#000" stroke-width="1.7" />
<line x1="1466.5" y1="752.8" x2="1487.3" y2="752.8" stroke="#000" stroke-width="1.7" />
<rect x="1521.1" y="786" width="44.2" height="117.9" fill="#fff" stroke="#000" stroke-width="1.7"/>
<line x1="1543.2" y1="779.3" x2="1543.2" y2="792.6" stroke="#000" stroke-width="1.7" />
<line x1="1532.8" y1="779.3" x2="1553.6" y2="779.3" stroke="#000" stroke-width="1.7" />
<line x1="1532.8" y1="792.6" x2="1553.6" y2="792.6" stroke="#000" stroke-width="1.7" />
<rect x="1587.4" y="793.6" width="44.2" height="110.3" fill="#fff" stroke="#000" stroke-width="1.7"/>
<line x1="1609.5" y1="780.4" x2="1609.5" y2="807" stroke="#000" stroke-width="1.7" />
<line x1="1599.1" y1="780.4" x2="1619.9" y2="780.4" stroke="#000" stroke-width="1.7" />
<line x1="1599.1" y1="807" x2="1619.9" y2="807" stroke="#000" stroke-width="1.7" />
<rect x="1697.3" y="798.2" width="44.2" height="105.7" fill="url(#chk)" stroke="#000" stroke-width="1.9"/>
<line x1="1719.4" y1="777.6" x2="1719.4" y2="798.2" stroke="#000" stroke-width="1.7" />
<line x1="1709" y1="777.6" x2="1729.8" y2="777.6" stroke="#000" stroke-width="1.7" />
<line x1="1719.4" y1="798.2" x2="1719.4" y2="818.4" stroke="#000" stroke-width="1.7" opacity="0.85"/>
<line x1="1709" y1="818.4" x2="1729.8" y2="818.4" stroke="#000" stroke-width="1.6" opacity="0.55"/>
<rect x="1763.5" y="684.4" width="44.2" height="219.5" fill="url(#chk)" stroke="#000" stroke-width="1.9"/>
<line x1="1785.6" y1="669.3" x2="1785.6" y2="684.4" stroke="#000" stroke-width="1.7" />
<line x1="1775.2" y1="669.3" x2="1796" y2="669.3" stroke="#000" stroke-width="1.7" />
<line x1="1785.6" y1="684.4" x2="1785.6" y2="699.7" stroke="#000" stroke-width="1.7" opacity="0.85"/>
<line x1="1775.2" y1="699.7" x2="1796" y2="699.7" stroke="#000" stroke-width="1.6" opacity="0.55"/>
<rect x="1829.6" y="728.4" width="44.2" height="175.5" fill="url(#chk)" stroke="#000" stroke-width="1.9"/>
<line x1="1851.7" y1="717.7" x2="1851.7" y2="728.4" stroke="#000" stroke-width="1.7" />
<line x1="1841.3" y1="717.7" x2="1862.1" y2="717.7" stroke="#000" stroke-width="1.7" />
<line x1="1851.7" y1="728.4" x2="1851.7" y2="739.2" stroke="#000" stroke-width="1.7" opacity="0.85"/>
<line x1="1841.3" y1="739.2" x2="1862.1" y2="739.2" stroke="#000" stroke-width="1.6" opacity="0.55"/>
<line x1="1432.9" y1="594.6" x2="1432.9" y2="903.9" stroke="#000" stroke-width="1.7" />
<line x1="1424.7" y1="903.9" x2="1896.9" y2="903.9" stroke="#000" stroke-width="1.8" />
<text x="1419.9" y="911.7" font-size="25.7" text-anchor="end" >0</text>
<line x1="1424.7" y1="801.07" x2="1432.9" y2="801.07" stroke="#000" stroke-width="1.6" />
<text x="1419.9" y="808.87" font-size="25.7" text-anchor="end" >5</text>
<line x1="1424.7" y1="698.23" x2="1432.9" y2="698.23" stroke="#000" stroke-width="1.6" />
<text x="1419.9" y="706.03" font-size="25.7" text-anchor="end" >10</text>
<line x1="1424.7" y1="595.4" x2="1432.9" y2="595.4" stroke="#000" stroke-width="1.6" />
<text x="1419.9" y="603.2" font-size="25.7" text-anchor="end" >15</text>
<line x1="1476.9" y1="903.9" x2="1476.9" y2="913.1" stroke="#000" stroke-width="1.6" />
<text x="1476.3" y="938.3" font-size="25.7" text-anchor="middle" >SO</text>
<line x1="1543.2" y1="903.9" x2="1543.2" y2="913.1" stroke="#000" stroke-width="1.6" />
<text x="1542.6" y="938.3" font-size="25.7" text-anchor="middle" >LO</text>
<line x1="1609.5" y1="903.9" x2="1609.5" y2="913.1" stroke="#000" stroke-width="1.6" />
<text x="1608.9" y="938.3" font-size="25.7" text-anchor="middle" >BO</text>
<line x1="1719.4" y1="903.9" x2="1719.4" y2="913.1" stroke="#000" stroke-width="1.6" />
<text x="1718.8" y="938.3" font-size="25.7" text-anchor="middle" >SO</text>
<line x1="1785.6" y1="903.9" x2="1785.6" y2="913.1" stroke="#000" stroke-width="1.6" />
<text x="1785" y="938.3" font-size="25.7" text-anchor="middle" >LO</text>
<line x1="1851.7" y1="903.9" x2="1851.7" y2="913.1" stroke="#000" stroke-width="1.6" />
<text x="1851.1" y="938.3" font-size="25.7" text-anchor="middle" >BO</text>
<polyline points="1476.5,731.4 1476.5,717.2 1611.9,717.2 1611.9,731.4" fill="none" stroke="#000" stroke-width="1.65"/>
<text x="1542.7" y="722.79" font-size="31.0" text-anchor="middle" class="st">*</text>
<polyline points="1717.2,589.4 1717.2,575.2 1852.9,575.2 1852.9,589.4" fill="none" stroke="#000" stroke-width="1.65"/>
<text x="1785.56" y="580.99" font-size="31.0" text-anchor="middle" letter-spacing="3.71" class="st">**</text>
<polyline points="1715.6,613.7 1715.6,599.7 1785,599.7 1785,613.7" fill="none" stroke="#000" stroke-width="1.65"/>
<text x="1753.86" y="605.39" font-size="31.0" text-anchor="middle" letter-spacing="3.71" class="st">**</text>
<polyline points="1785.4,635.8 1785.4,621.3 1854.5,621.3 1854.5,635.8" fill="none" stroke="#000" stroke-width="1.65"/>
<text x="1818.2" y="627.19" font-size="31.0" text-anchor="middle" class="st">*</text>
<text x="1786.8" y="659.22" font-size="25.0" text-anchor="middle" class="hs" letter-spacing="-0.4">##</text>
<text x="1719" y="767.22" font-size="25.0" text-anchor="middle" class="hs" letter-spacing="-0.4">#</text>
<text x="1855" y="707.02" font-size="25.0" text-anchor="middle" class="hs" letter-spacing="-0.4">##</text>
</g>
<g>
<text x="12.4" y="1044.5" font-size="59.6" text-anchor="start" letter-spacing="0.9" class="lb">(g)</text>
<text transform="translate(57 1247) rotate(-90)" font-size="29.6" text-anchor="middle">Relative mRNA expression</text>
<text transform="translate(91.9 1247.9) rotate(-90)" font-size="29.6" text-anchor="middle">of Leptin</text>
<rect x="153" y="1042.5" width="32.8" height="16.0" fill="#fff" stroke="#000" stroke-width="1.6"/>
<rect x="153" y="1071.4" width="32.8" height="16.5" fill="url(#chk)" stroke="#000" stroke-width="1.8"/>
<text x="204.2" y="1057.9" font-size="26.1" text-anchor="start" >3.8% (L)</text>
<text x="204.2" y="1087.3" font-size="26.1" text-anchor="start" >6.5% (H)</text>
<rect x="155.4" y="1282" width="44.2" height="120.5" fill="#fff" stroke="#000" stroke-width="1.7"/>
<line x1="177.5" y1="1267.5" x2="177.5" y2="1296.6" stroke="#000" stroke-width="1.7" />
<line x1="167.1" y1="1267.5" x2="187.9" y2="1267.5" stroke="#000" stroke-width="1.7" />
<line x1="167.1" y1="1296.6" x2="187.9" y2="1296.6" stroke="#000" stroke-width="1.7" />
<rect x="221.7" y="1303.3" width="44.2" height="99.2" fill="#fff" stroke="#000" stroke-width="1.7"/>
<line x1="243.8" y1="1288.1" x2="243.8" y2="1319" stroke="#000" stroke-width="1.7" />
<line x1="233.4" y1="1288.1" x2="254.2" y2="1288.1" stroke="#000" stroke-width="1.7" />
<line x1="233.4" y1="1319" x2="254.2" y2="1319" stroke="#000" stroke-width="1.7" />
<rect x="288" y="1314.6" width="44.2" height="87.9" fill="#fff" stroke="#000" stroke-width="1.7"/>
<line x1="310.1" y1="1307.3" x2="310.1" y2="1322" stroke="#000" stroke-width="1.7" />
<line x1="299.7" y1="1307.3" x2="320.5" y2="1307.3" stroke="#000" stroke-width="1.7" />
<line x1="299.7" y1="1322" x2="320.5" y2="1322" stroke="#000" stroke-width="1.7" />
<rect x="397.9" y="1139" width="44.2" height="263.5" fill="url(#chk)" stroke="#000" stroke-width="1.9"/>
<line x1="420" y1="1115.4" x2="420" y2="1139" stroke="#000" stroke-width="1.7" />
<line x1="409.6" y1="1115.4" x2="430.4" y2="1115.4" stroke="#000" stroke-width="1.7" />
<line x1="420" y1="1139" x2="420" y2="1162.5" stroke="#000" stroke-width="1.7" opacity="0.85"/>
<line x1="409.6" y1="1162.5" x2="430.4" y2="1162.5" stroke="#000" stroke-width="1.6" opacity="0.55"/>
<rect x="464.1" y="1200.7" width="44.2" height="201.8" fill="url(#chk)" stroke="#000" stroke-width="1.9"/>
<line x1="486.2" y1="1183.7" x2="486.2" y2="1200.7" stroke="#000" stroke-width="1.7" />
<line x1="475.8" y1="1183.7" x2="496.6" y2="1183.7" stroke="#000" stroke-width="1.7" />
<line x1="486.2" y1="1200.7" x2="486.2" y2="1217.4" stroke="#000" stroke-width="1.7" opacity="0.85"/>
<line x1="475.8" y1="1217.4" x2="496.6" y2="1217.4" stroke="#000" stroke-width="1.6" opacity="0.55"/>
<rect x="530.2" y="1287.7" width="44.2" height="114.8" fill="url(#chk)" stroke="#000" stroke-width="1.9"/>
<line x1="552.3" y1="1272.9" x2="552.3" y2="1287.7" stroke="#000" stroke-width="1.7" />
<line x1="541.9" y1="1272.9" x2="562.7" y2="1272.9" stroke="#000" stroke-width="1.7" />
<line x1="552.3" y1="1287.7" x2="552.3" y2="1302.4" stroke="#000" stroke-width="1.7" opacity="0.85"/>
<line x1="541.9" y1="1302.4" x2="562.7" y2="1302.4" stroke="#000" stroke-width="1.6" opacity="0.55"/>
<line x1="133.5" y1="1093.4" x2="133.5" y2="1402.5" stroke="#000" stroke-width="1.7" />
<line x1="125.3" y1="1402.5" x2="597.5" y2="1402.5" stroke="#000" stroke-width="1.8" />
<text x="120.5" y="1410.3" font-size="25.7" text-anchor="end" >0</text>
<line x1="125.3" y1="1325.42" x2="133.5" y2="1325.42" stroke="#000" stroke-width="1.6" />
<text x="120.5" y="1333.22" font-size="25.7" text-anchor="end" >2</text>
<line x1="125.3" y1="1248.35" x2="133.5" y2="1248.35" stroke="#000" stroke-width="1.6" />
<text x="120.5" y="1256.15" font-size="25.7" text-anchor="end" >4</text>
<line x1="125.3" y1="1171.28" x2="133.5" y2="1171.28" stroke="#000" stroke-width="1.6" />
<text x="120.5" y="1179.08" font-size="25.7" text-anchor="end" >6</text>
<line x1="125.3" y1="1094.2" x2="133.5" y2="1094.2" stroke="#000" stroke-width="1.6" />
<text x="120.5" y="1102" font-size="25.7" text-anchor="end" >8</text>
<line x1="177.5" y1="1402.5" x2="177.5" y2="1411.7" stroke="#000" stroke-width="1.6" />
<text x="176.9" y="1436.9" font-size="25.7" text-anchor="middle" >SO</text>
<line x1="243.8" y1="1402.5" x2="243.8" y2="1411.7" stroke="#000" stroke-width="1.6" />
<text x="243.2" y="1436.9" font-size="25.7" text-anchor="middle" >LO</text>
<line x1="310.1" y1="1402.5" x2="310.1" y2="1411.7" stroke="#000" stroke-width="1.6" />
<text x="309.5" y="1436.9" font-size="25.7" text-anchor="middle" >BO</text>
<line x1="420" y1="1402.5" x2="420" y2="1411.7" stroke="#000" stroke-width="1.6" />
<text x="419.4" y="1436.9" font-size="25.7" text-anchor="middle" >SO</text>
<line x1="486.2" y1="1402.5" x2="486.2" y2="1411.7" stroke="#000" stroke-width="1.6" />
<text x="485.6" y="1436.9" font-size="25.7" text-anchor="middle" >LO</text>
<line x1="552.3" y1="1402.5" x2="552.3" y2="1411.7" stroke="#000" stroke-width="1.6" />
<text x="551.7" y="1436.9" font-size="25.7" text-anchor="middle" >BO</text>
<polyline points="417.4,1061.7 417.4,1047.4 553.5,1047.4 553.5,1063.6" fill="none" stroke="#000" stroke-width="1.65"/>
<text x="486.66" y="1051.19" font-size="31.0" text-anchor="middle" letter-spacing="3.71" class="st">**</text>
<polyline points="417.4,1086.3 417.4,1072.2 487.7,1072.2 487.7,1088.2" fill="none" stroke="#000" stroke-width="1.65"/>
<text x="450.8" y="1077.69" font-size="31.0" text-anchor="middle" class="st">*</text>
<polyline points="484.9,1110.7 484.9,1096.7 555.4,1096.7 555.4,1110.7" fill="none" stroke="#000" stroke-width="1.65"/>
<text x="524.56" y="1102.29" font-size="31.0" text-anchor="middle" letter-spacing="3.71" class="st">**</text>
<text x="420.1" y="1108.42" font-size="25.0" text-anchor="middle" class="hs" letter-spacing="-0.4">##</text>
<text x="488.2" y="1176.33" font-size="25.0" text-anchor="middle" class="hs" letter-spacing="-0.4">##</text>
</g>
</svg>
</body>
</html>
